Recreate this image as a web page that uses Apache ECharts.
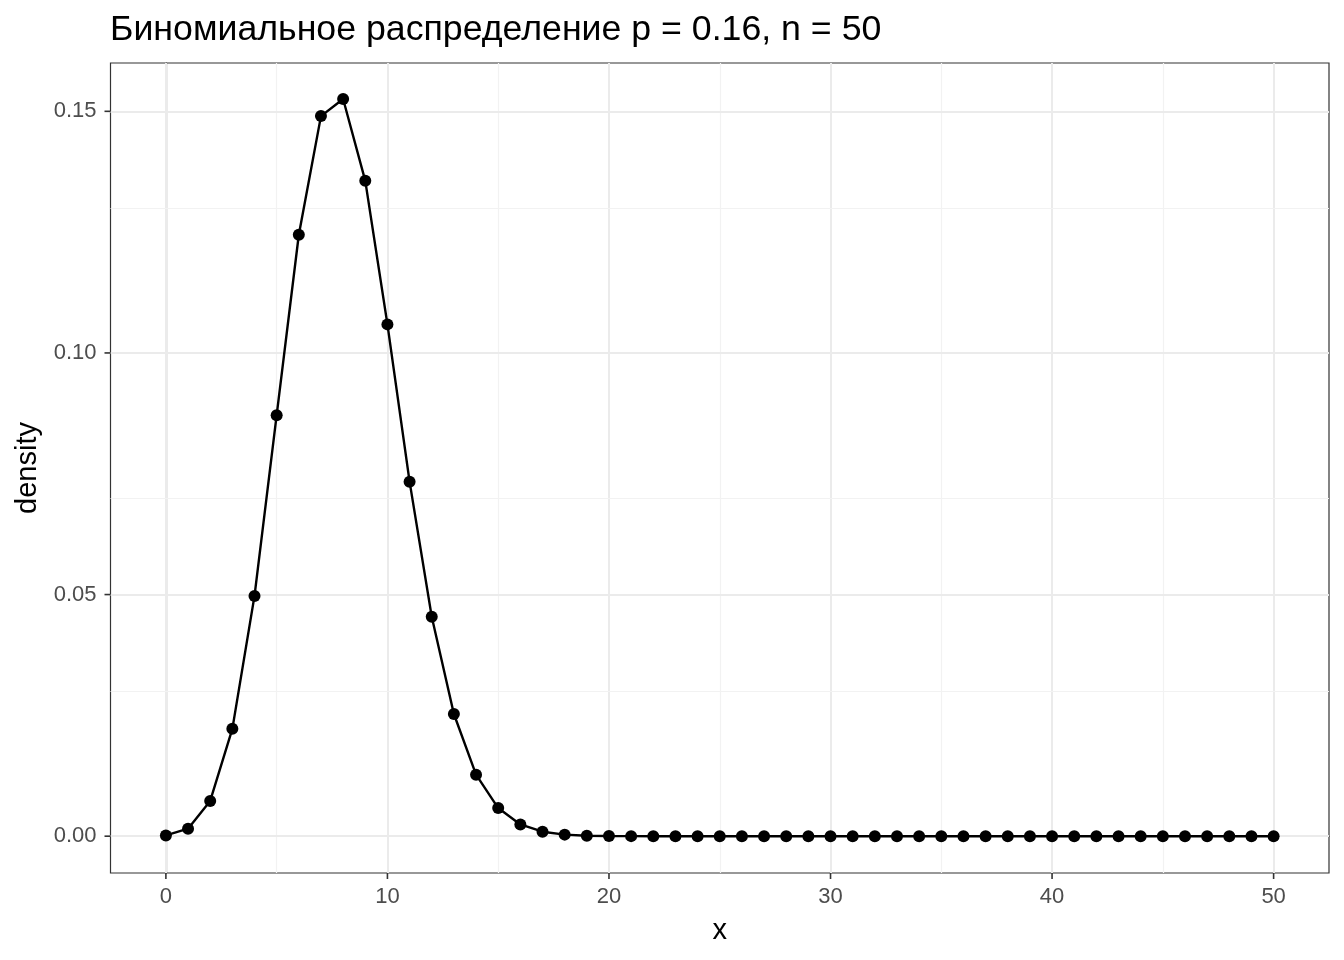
<!DOCTYPE html>
<html>
<head>
<meta charset="utf-8">
<script src="https://cdn.jsdelivr.net/npm/echarts@6/dist/echarts.min.js"></script>
<style>
html,body{margin:0;padding:0;background:#fff;}
#chart{width:1344px;height:960px;}
</style>
</head>
<body>
<div id="chart"></div>
<script>
const titleText = 'Биномиальное распределение p = 0.16, n = 50';
const xValues = [0,1,2,3,4,5,6,7,8,9,10,11,12,13,14,15,16,17,18,19,20,21,22,23,24,25,26,27,28,29,30,31,32,33,34,35,36,37,38,39,40,41,42,43,44,45,46,47,48,49,50];
const densityValues = [0.00016,0.00156,0.00729,0.02221,0.04972,0.08712,0.12446,0.14901,0.15256,0.13561,0.10591,0.07336,0.04541,0.02528,0.01273,0.00582,0.00242,0.00092,0.00032,0.00010,0.00003,0.00001,0,0,0,0,0,0,0,0,0,0,0,0,0,0,0,0,0,0,0,0,0,0,0,0,0,0,0,0,0];
const xTicks = [0,10,20,30,40,50];
const xMinorGrid = [5,15,25,35,45];
const yTicks = [0,0.05,0.10,0.15];
const yMinorGrid = [0.025,0.075,0.125];

const FONT = 'Liberation Sans, Arial, sans-serif';
const chart = echarts.init(document.getElementById('chart'), null, {renderer:'canvas'});

const gridLines = [];
xTicks.forEach(v => gridLines.push({xAxis: v, lineStyle:{color:'#EBEBEB', width:2, type:'solid'}}));
xMinorGrid.forEach(v => gridLines.push({xAxis: v, lineStyle:{color:'#F2F2F2', width:1.2, type:'solid'}}));
yTicks.forEach(v => gridLines.push({yAxis: v, lineStyle:{color:'#EBEBEB', width:2, type:'solid'}}));
yMinorGrid.forEach(v => gridLines.push({yAxis: v, lineStyle:{color:'#F2F2F2', width:1.2, type:'solid'}}));

// tick marks drawn as short line segments at the axis tick values (through the axes' scales)
const tickMarks = {
  type: 'custom', silent: true, z: 6, clip: false,
  data: [0],
  renderItem: function (params, api) {
    const cs = params.coordSys;
    const bottom = cs.y + cs.height;
    const left = cs.x;
    const children = [];
    xTicks.forEach(v => {
      const p = api.coord([v, 0]);
      children.push({type: 'line', shape: {x1: p[0], y1: bottom, x2: p[0], y2: bottom + 6},
        style: {stroke: '#333333', lineWidth: 1.6}});
    });
    yTicks.forEach(v => {
      const p = api.coord([0, v]);
      children.push({type: 'line', shape: {x1: left - 6, y1: p[1], x2: left, y2: p[1]},
        style: {stroke: '#333333', lineWidth: 1.6}});
    });
    return {type: 'group', children: children};
  }
};

chart.setOption({
  animation: false,
  backgroundColor: '#ffffff',
  title: {
    text: titleText,
    left: 105, top: 7,
    textStyle: {fontFamily: FONT, fontSize: 35.7, fontWeight: 'normal', color: '#000000'}
  },
  grid: {
    left: 110.5, right: 15, top: 63, bottom: 87,
    show: true, borderColor: '#333333', borderWidth: 1.2, backgroundColor: 'transparent'
  },
  xAxis: {
    type: 'value', min: -2.5, max: 52.5,
    name: 'x', nameLocation: 'middle', nameGap: 43,
    nameTextStyle: {fontFamily: FONT, fontSize: 29, color: '#000000'},
    axisLine: {show: true, lineStyle: {color: '#333333', width: 1.2}},
    axisTick: {show: false},
    axisLabel: {show: true, customValues: xTicks, margin: 13, fontFamily: FONT, fontSize: 22, color: '#4D4D4D'},
    splitLine: {show: false}
  },
  yAxis: {
    type: 'value', min: -0.00762, max: 0.16,
    name: 'density', nameLocation: 'middle', nameGap: 62, nameRotate: 90,
    nameTextStyle: {fontFamily: FONT, fontSize: 29, color: '#000000'},
    axisLine: {show: true, lineStyle: {color: '#333333', width: 1.2}},
    axisTick: {show: false},
    axisLabel: {show: true, customValues: yTicks, margin: 14, fontFamily: FONT, fontSize: 22, color: '#4D4D4D',
      formatter: v => v.toFixed(2)},
    splitLine: {show: false}
  },
  series: [
    {
      type: 'line', data: [], silent: true, z: 1,
      markLine: {silent: true, symbol: ['none','none'], label: {show: false}, animation: false, data: gridLines}
    },
    tickMarks,
    {
      type: 'line', z: 5,
      data: xValues.map((x, i) => [x, densityValues[i]]),
      lineStyle: {color: '#000000', width: 2.4},
      itemStyle: {color: '#000000'},
      symbol: 'circle', symbolSize: 12, showAllSymbol: true
    }
  ]
});
</script>
</body>
</html>
